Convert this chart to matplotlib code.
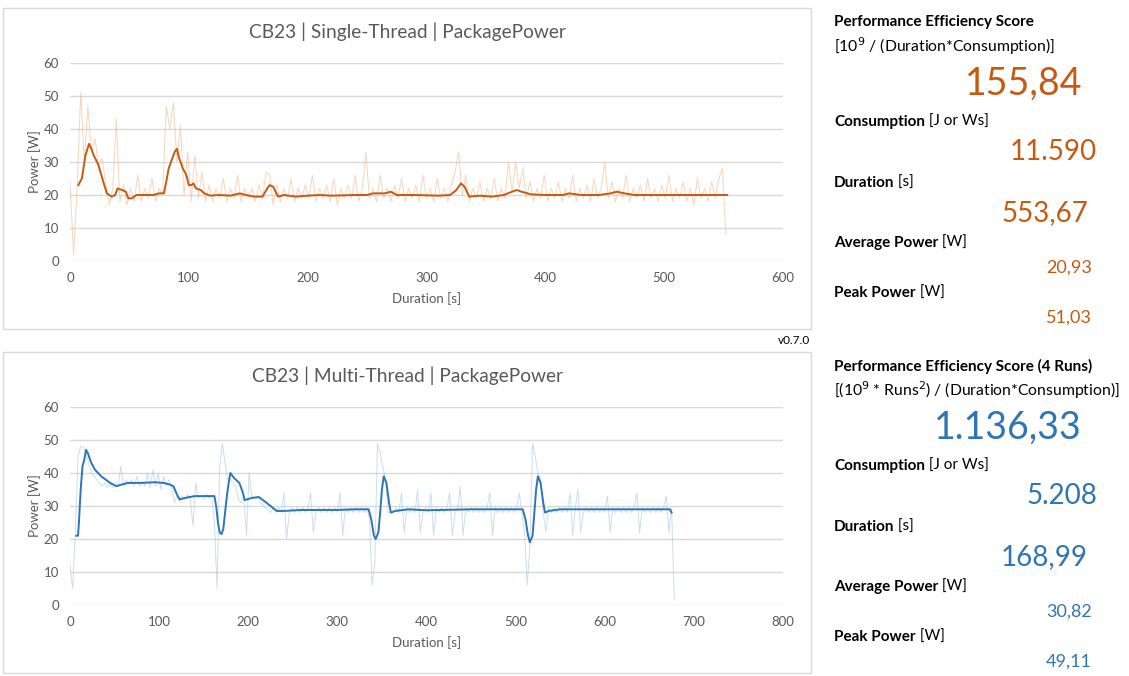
import numpy as np
import matplotlib
matplotlib.use("Agg")
import matplotlib.pyplot as plt
from matplotlib.patches import Rectangle

plt.rcParams["font.family"] = ["Lato", "DejaVu Sans"]

# ---- data: single-thread (raw samples every 3 s, smoothed curve) ----
st_raw = [24, 2, 22, 51, 30, 47, 33, 37, 29, 31,
          24, 17, 22, 43, 18, 23, 17, 22, 18, 26,
          18, 22, 19, 25, 18, 22, 20, 47, 40, 48,
          30, 41, 20, 33, 18, 32, 19, 27, 18, 23,
          18, 22, 19, 25, 18, 22, 19, 26, 18, 22,
          19, 22, 18, 23, 19, 27, 26, 17, 23, 18,
          22, 19, 25, 18, 22, 19, 23, 19, 26, 18,
          22, 19, 23, 18, 25, 17, 22, 19, 23, 19,
          26, 18, 22, 33, 19, 22, 18, 26, 19, 22,
          18, 23, 19, 25, 18, 22, 19, 23, 18, 26,
          19, 22, 18, 25, 19, 22, 18, 23, 27, 33,
          20, 26, 18, 22, 19, 24, 18, 22, 19, 25,
          18, 22, 19, 30, 21, 30, 22, 28, 19, 24,
          18, 22, 19, 26, 18, 22, 19, 24, 18, 22,
          19, 26, 18, 22, 19, 23, 18, 25, 19, 22,
          30, 19, 24, 18, 22, 19, 26, 18, 22, 19,
          23, 18, 25, 19, 22, 18, 23, 19, 26, 18,
          22, 19, 24, 18, 22, 17, 25, 19, 22, 18,
          24, 19, 25, 28, 8]
st_step = 3

st_smooth_t = [7, 10, 13, 16, 18, 20, 24, 28, 31, 35, 38, 40, 44, 47, 49, 52, 56, 60, 70, 75,
               79, 81, 83, 86, 88, 90, 92, 95, 98, 100, 102, 104, 106, 110, 113, 118, 125, 135, 143, 148,
               155, 162, 166, 168, 171, 175, 180, 190, 200, 210, 220, 240, 250, 255, 260, 265, 270, 275, 290, 310,
               320, 325, 329, 332, 336, 345, 355, 365, 372, 376, 380, 388, 400, 415, 420, 430, 445, 455, 460, 465,
               475, 500, 520, 540, 553]
st_smooth_w = [23, 25, 32, 35.5, 34, 32, 29, 24, 20.5, 19.5, 20, 22, 21.5, 21, 19, 19, 20, 20, 20, 20.5,
               20.5, 24, 28, 31, 33, 34, 31, 28, 26, 23, 23, 23.5, 22, 21.5, 20.5, 19.8, 20, 19.8, 20.5, 20,
               19.5, 19.5, 22, 23, 22.5, 19.5, 20, 19.5, 19.8, 20, 19.8, 20, 20, 20.5, 20.5, 20.5, 21, 20, 20, 19.8,
               20, 21.5, 23.5, 22.5, 19.5, 19.8, 19.5, 20, 21, 21.5, 21, 20.2, 20, 20, 20.5, 20, 20, 20.5, 21, 20.6,
               20, 20, 20, 20, 20]

# ---- data: multi-thread ----
mt_raw = [12, 5, 22, 45, 48, 48, 46, 43, 40, 39,
          38, 37, 36, 37, 35.5, 37, 35.5, 37, 36, 42,
          36, 38, 36.5, 38, 36, 39, 36, 37.5, 36, 40,
          35.5, 41, 36, 40, 35, 39, 36, 38, 35.5, 31,
          33, 31.5, 33, 32, 33.5, 32, 24, 37, 32.5, 33,
          32, 33.5, 32.5, 33, 25, 5, 42, 49, 43, 38,
          38, 37, 36, 32, 31, 33, 21, 40, 33, 32,
          33, 31, 30.5, 29.5, 29, 28, 29.5, 28, 29.5, 28,
          34, 20, 28, 29.5, 28, 29.5, 28, 29.5, 28, 29.5,
          34, 22, 28, 29.5, 28, 29.5, 28, 29.5, 28, 29.5,
          28, 34, 21, 29.5, 28, 29.5, 28, 29.5, 28, 29.5,
          28, 29.5, 26, 6, 13, 49, 46, 42, 38, 28,
          28, 28.5, 29.5, 28, 34, 22, 29.5, 28, 29.5, 28,
          35, 22, 28, 29.5, 28, 34, 21, 29.5, 28, 29.5,
          28, 29.5, 34, 21, 28, 29.5, 36, 21, 29.5, 28,
          29.5, 28, 29.5, 28, 29.5, 28, 29.5, 34, 21, 29.5,
          28, 29.5, 28, 29.5, 28, 29.5, 28, 29.5, 34, 28,
          22, 6, 18, 49, 45, 40, 38, 28, 22, 29.5,
          28, 29.5, 28, 29.5, 28, 29.5, 28, 34, 21, 29.5,
          35, 22, 28, 29.5, 28, 29.5, 28, 29.5, 28, 29.5,
          28, 33, 22, 29.5, 28, 29.5, 28, 29.5, 28, 29.5,
          28, 29.5, 34, 22, 29.5, 28, 29.5, 28, 29.5, 28,
          29.5, 28, 29.5, 33, 22, 29.5, 1.5]
mt_step = 3

mt_smooth_t = [7, 9, 10, 12, 14, 16, 18, 20, 24, 28, 35, 45, 52, 58, 65, 80, 95, 105, 112, 116,
               120, 123, 130, 140, 150, 162, 164, 166, 168, 170, 172, 174, 176, 178, 180, 184, 190, 194, 196, 205,
               212, 218, 225, 232, 240, 260, 300, 320, 335, 338, 341, 343, 346, 348, 350, 352, 355, 358, 360, 365,
               380, 400, 450, 490, 508, 511, 514, 516, 519, 521, 523, 525, 528, 531, 533, 537, 550, 600, 650, 673,
               675]
mt_smooth_w = [21, 21, 25, 35, 42, 44, 47, 46, 43, 41, 39, 37, 36, 36.5, 37, 37, 37.2, 37, 36.5, 36,
               33.5, 32, 32.5, 33, 33, 33, 30, 25, 22, 21.5, 23, 28, 33, 37, 40, 38.5, 37, 34, 31.8, 32.5,
               32.7, 31.5, 30, 28.5, 28.5, 28.8, 28.8, 29, 29, 26, 21, 20, 22, 28, 35, 39, 37, 31, 28, 28.5,
               29, 28.7, 29, 29, 29, 26, 21, 19, 21, 28, 35, 39, 37, 31, 28, 28.5, 29, 29, 29, 29,
               28]

# ---- right-hand summary ----
st_labels = [("Consumption", " [J or Ws]"), ("Duration", " [s]"),
             ("Average Power", " [W]"), ("Peak Power", " [W]")]
st_values = ["11.590", "553,67", "20,93", "51,03"]
st_score = "155,84"
mt_values = ["5.208", "168,99", "30,82", "49,11"]
mt_score = "1.136,33"

ORANGE_D = "#C55A11"
ORANGE_L = "#F4B183"
BLUE_D = "#2E75B6"
BLUE_L = "#9DC3E6"
GRID = "#D9D9D9"
TXT = "#595959"

W, H = 1129, 676
fig = plt.figure(figsize=(W / 100, H / 100), dpi=100)


def px(x, y):
    return x / W, 1 - y / H


def panel(top, title, raw, step, sm_t, sm_w, xmax, c_light, c_dark):
    # outer chart border
    fig.patches.append(Rectangle(px(3, top + 321), 808 / W, 321 / H, transform=fig.transFigure,
                                 fill=False, edgecolor=GRID, lw=1))
    ax = fig.add_axes([70 / W, 1 - (top + 253) / H, 713 / W, 198 / H])
    t = np.arange(len(raw)) * step
    ax.plot(t, raw, color=c_light, lw=0.7, alpha=0.55)
    ax.plot(sm_t, sm_w, color=c_dark, lw=1.4)
    ax.set_xlim(0, xmax)
    ax.set_ylim(0, 60)
    ax.set_xticks(np.arange(0, xmax + 1, 100))
    ax.set_yticks(np.arange(0, 61, 10))
    ax.grid(axis="y", color=GRID, lw=1)
    ax.set_axisbelow(True)
    for s in ax.spines.values():
        s.set_visible(False)
    ax.tick_params(length=0, labelsize=9.5, colors=TXT, pad=8)
    ax.set_xlabel("Duration [s]", fontsize=9.5, color=TXT, labelpad=6)
    ax.set_ylabel("Power [W]", fontsize=9.5, color=TXT, labelpad=1.5)
    fig.text(*px(407, top + 24), title, ha="center", va="center", fontsize=13.8, color=TXT)
    return ax


panel(8, "CB23 | Single-Thread | PackagePower", st_raw, st_step,
      st_smooth_t, st_smooth_w, 600, ORANGE_L, ORANGE_D)
panel(352, "CB23 | Multi-Thread | PackagePower", mt_raw, mt_step,
      mt_smooth_t, mt_smooth_w, 800, BLUE_L, BLUE_D)

fig.text(*px(810, 341), "v0.7.0", ha="right", va="center", fontsize=8.5, color="black")


def label(y, bold, normal):
    t = fig.text(*px(834, y), bold, ha="left", va="center", fontsize=11, fontweight="bold")
    if normal:
        fig.add_artist(plt.Annotation(normal, xy=(1, 0.5), xycoords=t, va="center",
                                      ha="left", fontsize=11))


def summary(y0, head, formula, score, score_right, values, color):
    label(y0, head, "")
    fig.text(*px(834, y0 + 24), formula, ha="left", va="center", fontsize=11.3)
    fig.text(*px(score_right, y0 + 62), score, ha="right", va="center", fontsize=27, color=color)
    ys_lab = [100, 161, 221, 271]
    ys_val = [130, 191, 246, 296]
    rights = [1097, 1088, 1092, 1092]
    sizes = [20, 20, 13, 13]
    for (b, n), yl, yv, r, s, v in zip(st_labels, ys_lab, ys_val, rights, sizes, values):
        label(y0 + yl, b, n)
        fig.text(*px(r, y0 + yv), v, ha="right", va="center", fontsize=s, color=color)


summary(22, "Performance Efficiency Score", "[10$^9$ / (Duration*Consumption)]",
        st_score, 1082, st_values, ORANGE_D)
summary(366, "Performance Efficiency Score (4 Runs)",
        "[(10$^9$ * Runs$^2$) / (Duration*Consumption)]",
        mt_score, 1082, mt_values, BLUE_D)

fig.savefig("out.png", dpi=100)
